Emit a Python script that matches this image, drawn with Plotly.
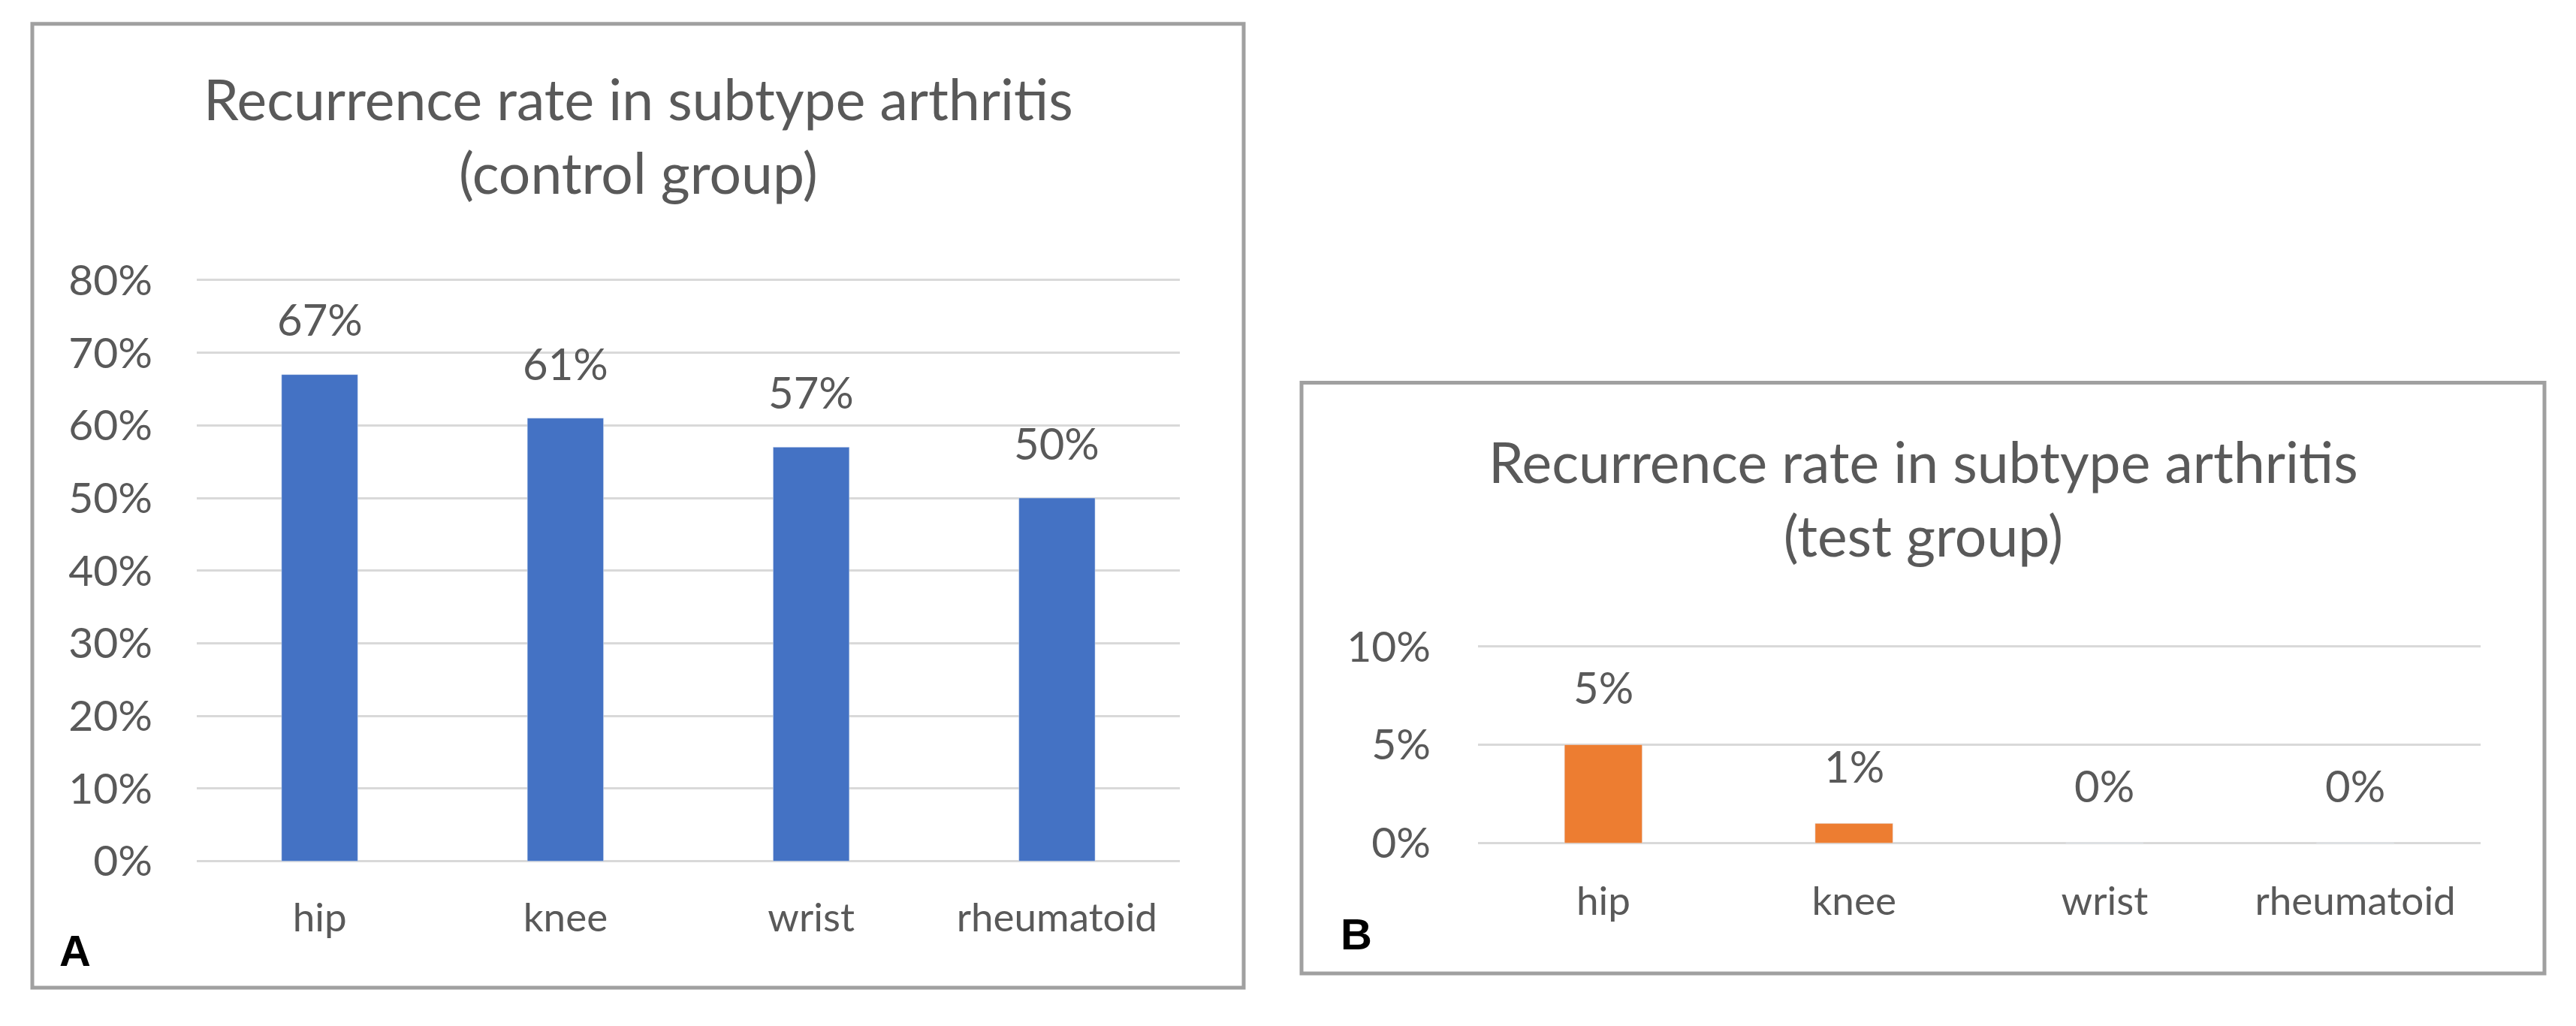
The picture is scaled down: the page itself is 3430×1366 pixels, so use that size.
import plotly.graph_objects as go

categories = ["hip", "knee", "wrist", "rheumatoid"]
control_values = [0.67, 0.61, 0.57, 0.50]
test_values = [0.05, 0.01, 0.0, 0.0]
control_labels = ["67%", "61%", "57%", "50%"]
test_labels = ["5%", "1%", "0%", "0%"]
control_ticks = [0, 0.1, 0.2, 0.3, 0.4, 0.5, 0.6, 0.7, 0.8]
control_ticktext = ["0%", "10%", "20%", "30%", "40%", "50%", "60%", "70%", "80%"]
test_ticks = [0, 0.05, 0.10]
test_ticktext = ["0%", "5%", "10%"]
title_a = "Recurrence rate in subtype arthritis<br>(control group)"
title_b = "Recurrence rate in subtype arthritis<br>(test group)"

W, H = 3430, 1366
FONT = "Lato"
GRAY = "#595959"
GRID = "#D9D9D9"
TICK_SIZE = 57
LABEL_SIZE = 58
XLABEL_SIZE = 53
TITLE_SIZE = 75
K = 0.95  # vertical calibration


def px(x):
    return x / W


def py(y):
    yc = H / 2 + (y - H / 2) / K
    return 1 - yc / H


# panel A value->pixel (0 at 1143, 0.8 at 372)
A0, A80 = 1143, 372
a_unit = (A0 - A80) / 0.8
a_lo, a_hi = -0.004, 0.804
# panel B value->pixel (0 at 1119, 0.1 at 858)
B0, B10 = 1119, 858
b_unit = (B0 - B10) / 0.1
b_lo, b_hi = -0.0006, 0.1006

fig = go.Figure()
fig.add_trace(go.Bar(x=categories, y=control_values, marker_color="#4472C4",
                     xaxis="x", yaxis="y", hoverinfo="skip", showlegend=False))
fig.add_trace(go.Bar(x=categories, y=test_values, marker_color="#ED7D31",
                     xaxis="x2", yaxis="y2", hoverinfo="skip", showlegend=False))

annotations = []
for c, v, t in zip(categories, control_values, control_labels):
    annotations.append(dict(x=c, y=v, xref="x", yref="y", text=t, showarrow=False,
                            yshift=70 / K, yanchor="middle",
                            font=dict(family=FONT, size=LABEL_SIZE, color=GRAY)))
for c, v, t in zip(categories, test_values, test_labels):
    annotations.append(dict(x=c, y=v, xref="x2", yref="y2", text=t, showarrow=False,
                            yshift=73 / K, yanchor="middle",
                            font=dict(family=FONT, size=LABEL_SIZE, color=GRAY)))

# titles
annotations.append(dict(x=px(850), y=py(180), xref="paper", yref="paper", text=title_a,
                        showarrow=False, xanchor="center", yanchor="middle",
                        font=dict(family=FONT, size=TITLE_SIZE, color=GRAY)))
annotations.append(dict(x=px(2561), y=py(661), xref="paper", yref="paper", text=title_b,
                        showarrow=False, xanchor="center", yanchor="middle",
                        font=dict(family=FONT, size=TITLE_SIZE, color=GRAY)))
# panel letters
annotations.append(dict(x=px(100), y=py(1262), xref="paper", yref="paper", text="<b>A</b>",
                        showarrow=False, xanchor="center", yanchor="middle",
                        font=dict(family="Liberation Sans", size=58, color="black")))
annotations.append(dict(x=px(1806), y=py(1240), xref="paper", yref="paper", text="<b>B</b>",
                        showarrow=False, xanchor="center", yanchor="middle",
                        font=dict(family="Liberation Sans", size=58, color="black")))

shapes = [
    dict(type="rect", xref="paper", yref="paper", x0=px(43), x1=px(1656), y0=py(1311), y1=py(32),
         line=dict(color="#A0A0A0", width=5), fillcolor="rgba(0,0,0,0)", layer="below"),
    dict(type="rect", xref="paper", yref="paper", x0=px(1733), x1=px(3388), y0=py(1292), y1=py(508),
         line=dict(color="#A0A0A0", width=5), fillcolor="rgba(0,0,0,0)", layer="below"),
]

axis_font = dict(family=FONT, size=TICK_SIZE, color=GRAY)
xaxis_font = dict(family=FONT, size=XLABEL_SIZE, color=GRAY)

fig.update_layout(
    width=W, height=H,
    margin=dict(l=0, r=0, t=0, b=0),
    paper_bgcolor="white", plot_bgcolor="white",
    bargap=0.69,
    annotations=annotations,
    shapes=shapes,
    xaxis=dict(domain=[px(262), px(1571)], anchor="y", tickfont=xaxis_font,
               showgrid=False, showline=False, ticks="", ticklabelstandoff=36,
               fixedrange=True),
    yaxis=dict(domain=[py(A0 - a_lo * a_unit), py(A0 - a_hi * a_unit)], anchor="x",
               range=[a_lo, a_hi],
               tickvals=control_ticks, ticktext=control_ticktext, tickfont=axis_font,
               showgrid=True, gridcolor=GRID, gridwidth=3, zeroline=False,
               showline=False, ticks="", ticklabelstandoff=58, fixedrange=True),
    xaxis2=dict(domain=[px(1968), px(3303)], anchor="y2", tickfont=xaxis_font,
                showgrid=False, showline=False, ticks="", ticklabelstandoff=40,
                fixedrange=True),
    yaxis2=dict(domain=[py(B0 - b_lo * b_unit), py(B0 - b_hi * b_unit)], anchor="x2",
                range=[b_lo, b_hi],
                tickvals=test_ticks, ticktext=test_ticktext, tickfont=axis_font,
                showgrid=True, gridcolor=GRID, gridwidth=3, zeroline=False,
                showline=False, ticks="", ticklabelstandoff=62, fixedrange=True),
)

fig.write_html("out.html")
